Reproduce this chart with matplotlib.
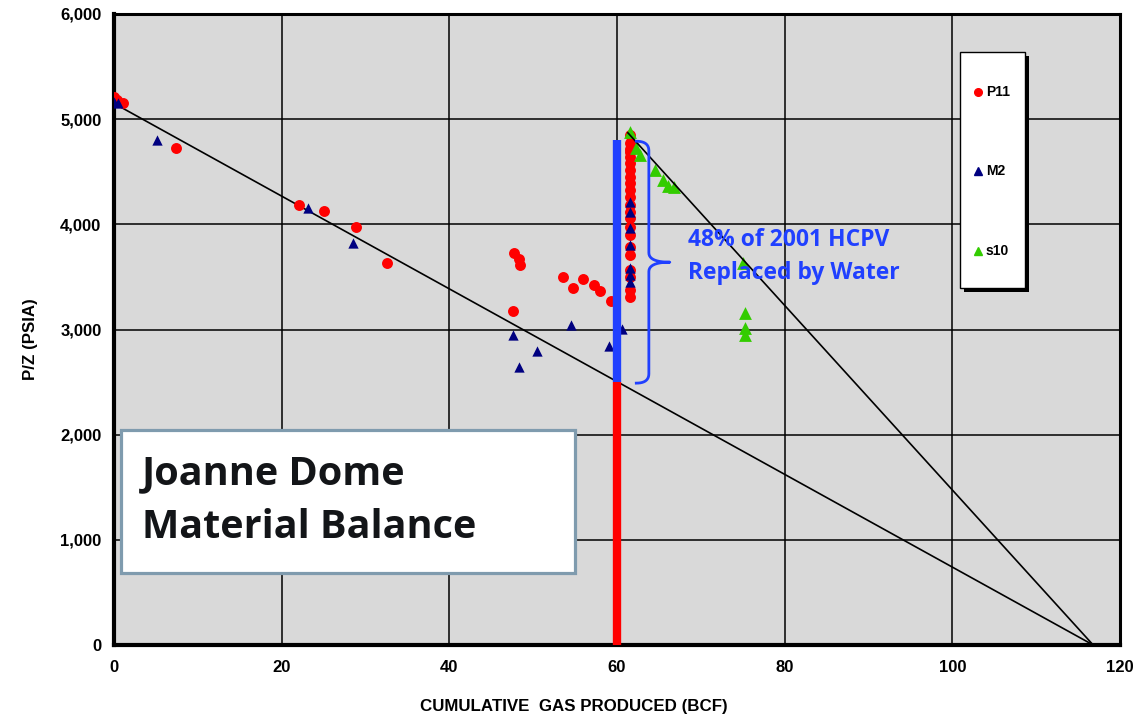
import matplotlib
matplotlib.use("Agg")
import matplotlib.pyplot as plt
from matplotlib.patches import Rectangle
import numpy as np

# ---------------- data ----------------
col_x = 61.6
p11_col_y = [4848, 4772, 4720, 4686, 4639, 4582, 4515, 4449, 4392, 4325, 4259,
             4183, 4116, 4059, 3973, 3897, 3783, 3707, 3565, 3498, 3375, 3308]
p11_x = [0.0, 0.3, 1.1, 7.4, 22.1, 25.0, 28.9, 32.6, 47.7, 48.3, 48.4, 47.6,
         53.6, 54.7, 56.0, 57.2, 58.0, 59.3] + [col_x] * len(p11_col_y)
p11_y = [5210, 5180, 5150, 4724, 4183, 4126, 3973, 3631, 3726, 3669, 3612, 3175,
         3498, 3394, 3479, 3422, 3365, 3270] + p11_col_y

m2_col_y = [4210, 4120, 3965, 3800, 3585, 3520, 3455]
m2_x = [0.0, 0.5, 5.1, 23.2, 28.5, 47.6, 48.3, 50.5, 54.5, 59.0, 60.6] + [col_x] * len(m2_col_y)
m2_y = [5162, 5152, 4805, 4158, 3825, 2947, 2643, 2795, 3042, 2842, 3004] + m2_col_y

s10_x = [61.5, 62.3, 62.8, 64.5, 65.5, 66.1, 66.8, 75.0, 75.3, 75.3, 75.3]
s10_y = [4876, 4725, 4660, 4515, 4420, 4363, 4354, 3631, 3156, 3013, 2947]

line1_x = [0.0, 116.8]
line1_y = [5150, 0]
line2_x = [61.3, 116.8]
line2_y = [4870, 0]

water_x = 60.0
gas_bottom, water_bottom, water_top = 0, 2500, 4800

x_ticks = [0, 20, 40, 60, 80, 100, 120]
y_ticks = [0, 1000, 2000, 3000, 4000, 5000, 6000]
y_tick_labels = ["0", "1,000", "2,000", "3,000", "4,000", "5,000", "6,000"]

series_names = ["P11", "M2", "s10"]
series_colors = ["#ff0000", "#000080", "#33cc00"]
series_markers = ["o", "^", "^"]

# ---------------- figure ----------------
fig = plt.figure(figsize=(11.43, 7.15), dpi=100)
ax = fig.add_axes([114 / 1143, 70 / 715, 1006 / 1143, 631 / 715])
ax.set_facecolor("#d9d9d9")
ax.set_xlim(0, 120)
ax.set_ylim(0, 6000)

ax.set_xticks(x_ticks)
ax.set_yticks(y_ticks)
ax.set_yticklabels(y_tick_labels)
ax.tick_params(axis="both", length=0, labelsize=12)
ax.tick_params(axis="x", pad=11)
ax.tick_params(axis="y", pad=9)
for lab in ax.get_xticklabels() + ax.get_yticklabels():
    lab.set_fontweight("bold")
    lab.set_fontfamily("Liberation Sans")

ax.grid(True, color="black", linewidth=1.1)
ax.set_axisbelow(True)
for s in ax.spines.values():
    s.set_linewidth(2.2)
    s.set_color("black")
ax.spines["left"].set_linewidth(3)
ax.spines["bottom"].set_linewidth(3)

# decline lines
ax.plot(line1_x, line1_y, color="black", linewidth=1.2, zorder=3)
ax.plot(line2_x, line2_y, color="black", linewidth=1.2, zorder=4)

# data
ax.scatter(p11_x, p11_y, marker="o", s=62, color=series_colors[0], linewidths=0, zorder=3)
ax.scatter(m2_x, m2_y, marker="^", s=55, color=series_colors[1], linewidths=0, zorder=3.2)
ax.scatter(s10_x, s10_y, marker="^", s=85, color=series_colors[2], linewidths=0, zorder=3.1)

# water column
ax.plot([water_x, water_x], [gas_bottom, water_bottom], color="#ff0000",
        linewidth=6, solid_capstyle="butt", zorder=5)
ax.plot([water_x, water_x], [water_bottom, water_top], color="#2040ff",
        linewidth=6, solid_capstyle="butt", zorder=5)

# brace
def qbez(p0, p1, p2, n=12):
    t = np.linspace(0, 1, n)[:, None]
    p0, p1, p2 = map(np.array, (p0, p1, p2))
    return (1 - t) ** 2 * p0 + 2 * (1 - t) * t * p1 + t ** 2 * p2

xl, xr, xt = 62.3, 63.8, 66.3
yt, yb, ym = 4790, 2490, 3640
dy = 90
seg = [
    qbez((xl, yt), (xr, yt), (xr, yt - dy)),
    qbez((xr, ym + dy), (xr, ym), (xt, ym)),
    qbez((xt, ym), (xr, ym), (xr, ym - dy)),
    qbez((xr, yb + dy), (xr, yb), (xl, yb)),
]
pts = np.vstack(seg)
ax.plot(pts[:, 0], pts[:, 1], color="#2040ff", linewidth=2.0, zorder=6,
        solid_joinstyle="round")

ax.text(68.5, 3690, "48% of 2001 HCPV\nReplaced by Water", color="#2040ff",
        fontsize=16.5, fontweight="bold", family="Open Sans", va="center", ha="left",
        linespacing=1.5, zorder=7)

# title box
ax.add_patch(Rectangle((0.84, 684), 54.2, 1360, facecolor="white",
                       edgecolor="#7f9bae", linewidth=2.3, zorder=8))
ax.text(3.3, 1372, "Joanne Dome\nMaterial Balance", color="#131518",
        fontsize=28.5, fontweight="bold", family="Open Sans", va="center", ha="left",
        linespacing=1.47, zorder=9)

# legend (manual box with shadow)
def afrac(px, py):
    return ((px - 114) / 1006, (645 - py) / 631)

bx0, by0 = afrac(960, 288)
bx1, by1 = afrac(1025, 52)
sx, sy = afrac(964, 292)
ax.add_patch(Rectangle((sx, sy), bx1 - bx0, by1 - by0, transform=ax.transAxes,
                       facecolor="black", edgecolor="none", zorder=10, clip_on=False))
ax.add_patch(Rectangle((bx0, by0), bx1 - bx0, by1 - by0, transform=ax.transAxes,
                       facecolor="white", edgecolor="black", linewidth=1.0,
                       zorder=11, clip_on=False))
for name, col, mk, py in zip(series_names, series_colors, series_markers, [92, 171, 251]):
    mx, my = afrac(978, py)
    tx, _ = afrac(986, py)
    ax.plot([mx], [my], marker=mk, color=col, markersize=5.5, linestyle="none",
            transform=ax.transAxes, zorder=12, clip_on=False)
    ax.text(tx, my, name, transform=ax.transAxes, ha="left", va="center",
            fontsize=10, fontweight="bold", family="Liberation Sans", zorder=12)

fig.text(574 / 1143, 1 - 706 / 715, "CUMULATIVE  GAS PRODUCED (BCF)",
         ha="center", va="center", fontsize=12.2, fontweight="bold",
         family="Liberation Sans")
fig.text(30 / 1143, 1 - 339 / 715, "P/Z (PSIA)", ha="center", va="center",
         rotation=90, fontsize=12.2, fontweight="bold", family="Liberation Sans")

fig.savefig("out.png", dpi=100)
